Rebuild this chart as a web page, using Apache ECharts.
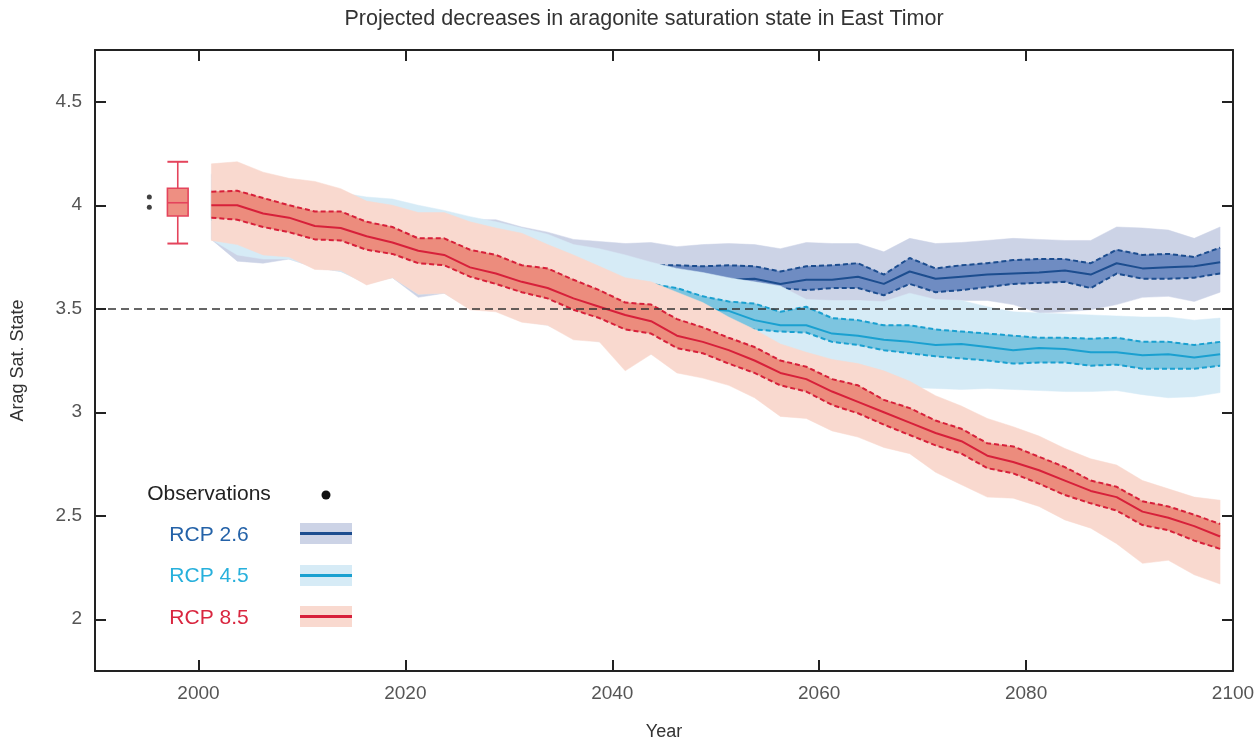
<!DOCTYPE html>
<html><head><meta charset="utf-8">
<script src="https://cdn.jsdelivr.net/npm/echarts@6/dist/echarts.min.js"></script>
<style>html,body{margin:0;padding:0;background:#fff}#c{width:1259px;height:739px}</style>
</head><body><div id="c"></div>
<script>
const years = [2001.25, 2003.75, 2006.25, 2008.75, 2011.25, 2013.75, 2016.25, 2018.75, 2021.25, 2023.75,
  2026.25, 2028.75, 2031.25, 2033.75, 2036.25, 2038.75, 2041.25, 2043.75, 2046.25, 2048.75,
  2051.25, 2053.75, 2056.25, 2058.75, 2061.25, 2063.75, 2066.25, 2068.75, 2071.25, 2073.75,
  2076.25, 2078.75, 2081.25, 2083.75, 2086.25, 2088.75, 2091.25, 2093.75, 2096.25, 2098.75];

const rcp85Median = [4.00, 4.00, 3.96, 3.94, 3.90, 3.89, 3.85, 3.82, 3.78, 3.76, 3.70, 3.67, 3.63, 3.60, 3.55, 3.51, 3.47, 3.44, 3.37, 3.34, 3.30, 3.25, 3.19, 3.16, 3.10, 3.05, 3.00, 2.95, 2.90, 2.86, 2.79, 2.76, 2.72, 2.67, 2.62, 2.59, 2.52, 2.49, 2.45, 2.40];
const rcp85InnerHigh = [4.065, 4.07, 4.035, 4.00, 3.97, 3.97, 3.92, 3.895, 3.84, 3.84, 3.785, 3.76, 3.71, 3.695, 3.64, 3.59, 3.53, 3.52, 3.45, 3.41, 3.36, 3.315, 3.25, 3.22, 3.16, 3.13, 3.06, 3.02, 2.96, 2.92, 2.85, 2.835, 2.785, 2.735, 2.67, 2.64, 2.57, 2.545, 2.505, 2.46];
const rcp85InnerLow = [3.94, 3.93, 3.895, 3.87, 3.835, 3.83, 3.785, 3.765, 3.72, 3.71, 3.655, 3.62, 3.58, 3.55, 3.495, 3.455, 3.40, 3.38, 3.31, 3.285, 3.235, 3.19, 3.13, 3.10, 3.035, 2.995, 2.94, 2.89, 2.84, 2.80, 2.73, 2.705, 2.655, 2.60, 2.56, 2.525, 2.455, 2.43, 2.38, 2.34];
const rcp85OuterHigh = [4.20, 4.21, 4.16, 4.13, 4.115, 4.08, 4.02, 4.00, 3.965, 3.965, 3.92, 3.89, 3.865, 3.81, 3.76, 3.705, 3.65, 3.63, 3.58, 3.53, 3.46, 3.40, 3.33, 3.29, 3.255, 3.235, 3.20, 3.15, 3.08, 3.03, 2.97, 2.93, 2.885, 2.825, 2.775, 2.745, 2.67, 2.63, 2.59, 2.575];
const rcp85OuterLow = [3.83, 3.81, 3.76, 3.75, 3.69, 3.685, 3.615, 3.65, 3.57, 3.575, 3.495, 3.485, 3.435, 3.42, 3.35, 3.34, 3.20, 3.28, 3.19, 3.165, 3.13, 3.07, 2.98, 2.97, 2.91, 2.88, 2.83, 2.80, 2.71, 2.65, 2.59, 2.585, 2.545, 2.48, 2.44, 2.365, 2.27, 2.285, 2.215, 2.17];

const rcp45Median = [4.00, 3.99, 3.96, 3.94, 3.90, 3.89, 3.85, 3.82, 3.78, 3.76, 3.71, 3.68, 3.65, 3.62, 3.59, 3.57, 3.55, 3.53, 3.51, 3.50, 3.49, 3.445, 3.42, 3.42, 3.38, 3.37, 3.35, 3.34, 3.325, 3.33, 3.315, 3.30, 3.31, 3.305, 3.29, 3.29, 3.275, 3.28, 3.265, 3.28];
const rcp45InnerHigh = [4.07, 4.07, 4.04, 4.01, 3.98, 3.97, 3.93, 3.90, 3.86, 3.85, 3.80, 3.78, 3.74, 3.72, 3.68, 3.66, 3.64, 3.62, 3.60, 3.56, 3.535, 3.525, 3.485, 3.51, 3.455, 3.445, 3.42, 3.42, 3.40, 3.39, 3.38, 3.37, 3.36, 3.36, 3.355, 3.36, 3.34, 3.34, 3.325, 3.34];
const rcp45InnerLow = [3.93, 3.92, 3.89, 3.87, 3.83, 3.82, 3.78, 3.76, 3.71, 3.70, 3.65, 3.62, 3.58, 3.55, 3.52, 3.49, 3.47, 3.45, 3.43, 3.42, 3.41, 3.40, 3.39, 3.385, 3.34, 3.325, 3.30, 3.285, 3.27, 3.26, 3.25, 3.235, 3.24, 3.24, 3.225, 3.23, 3.21, 3.21, 3.21, 3.225];
const rcp45OuterHigh = [4.15, 4.15, 4.12, 4.08, 4.06, 4.06, 4.04, 4.03, 4.00, 3.975, 3.945, 3.92, 3.89, 3.86, 3.81, 3.79, 3.76, 3.725, 3.695, 3.675, 3.65, 3.63, 3.61, 3.545, 3.54, 3.54, 3.535, 3.575, 3.545, 3.54, 3.51, 3.485, 3.48, 3.475, 3.47, 3.465, 3.46, 3.46, 3.445, 3.455];
const rcp45OuterLow = [3.835, 3.76, 3.74, 3.74, 3.70, 3.68, 3.62, 3.65, 3.57, 3.575, 3.50, 3.49, 3.44, 3.42, 3.36, 3.34, 3.30, 3.28, 3.25, 3.22, 3.20, 3.18, 3.16, 3.15, 3.14, 3.135, 3.13, 3.12, 3.115, 3.11, 3.115, 3.11, 3.105, 3.10, 3.10, 3.105, 3.085, 3.07, 3.075, 3.095];

const rcp26Median = [4.00, 3.99, 3.96, 3.94, 3.90, 3.89, 3.85, 3.82, 3.79, 3.77, 3.74, 3.72, 3.70, 3.69, 3.67, 3.66, 3.65, 3.65, 3.645, 3.64, 3.64, 3.645, 3.62, 3.64, 3.64, 3.655, 3.62, 3.68, 3.645, 3.655, 3.665, 3.67, 3.675, 3.685, 3.665, 3.72, 3.695, 3.70, 3.705, 3.725];
const rcp26InnerHigh = [4.06, 4.06, 4.03, 4.00, 3.97, 3.96, 3.92, 3.90, 3.87, 3.85, 3.82, 3.80, 3.78, 3.76, 3.74, 3.73, 3.72, 3.71, 3.71, 3.705, 3.71, 3.705, 3.68, 3.705, 3.71, 3.72, 3.665, 3.745, 3.695, 3.71, 3.72, 3.735, 3.74, 3.74, 3.72, 3.785, 3.76, 3.765, 3.75, 3.795];
const rcp26InnerLow = [3.94, 3.93, 3.89, 3.87, 3.84, 3.83, 3.78, 3.77, 3.72, 3.71, 3.66, 3.64, 3.62, 3.61, 3.60, 3.60, 3.60, 3.60, 3.60, 3.60, 3.60, 3.60, 3.60, 3.59, 3.60, 3.60, 3.565, 3.62, 3.58, 3.59, 3.605, 3.62, 3.625, 3.63, 3.60, 3.67, 3.645, 3.645, 3.65, 3.67];
const rcp26OuterHigh = [4.15, 4.14, 4.10, 4.07, 4.05, 4.02, 4.00, 3.99, 3.96, 3.95, 3.93, 3.93, 3.895, 3.87, 3.835, 3.825, 3.815, 3.82, 3.80, 3.81, 3.815, 3.81, 3.79, 3.82, 3.815, 3.815, 3.775, 3.84, 3.815, 3.82, 3.83, 3.84, 3.835, 3.83, 3.83, 3.895, 3.89, 3.88, 3.84, 3.895];
const rcp26OuterLow = [3.835, 3.73, 3.72, 3.74, 3.70, 3.68, 3.63, 3.65, 3.555, 3.575, 3.55, 3.55, 3.55, 3.55, 3.55, 3.55, 3.55, 3.55, 3.55, 3.55, 3.55, 3.55, 3.54, 3.535, 3.535, 3.54, 3.525, 3.555, 3.54, 3.54, 3.54, 3.52, 3.48, 3.485, 3.495, 3.52, 3.555, 3.56, 3.535, 3.58];

// observations (two points) and the red box-whisker summary
const obsYears = [1995.25, 1995.25];
const obsValues = [4.04, 3.99];
const boxYear = [1998];
const boxStats = [3.815, 3.948, 4.012, 4.082, 4.21]; // min, q1, median, q3, max

const xTicks = [2000, 2020, 2040, 2060, 2080, 2100];
const yTicks = [2, 2.5, 3, 3.5, 4, 4.5];
const threshold = 3.5;

const FONT = '"Liberation Sans", Arial, Helvetica, sans-serif';
const C = {
  r85: { outer: '#f9d9cf', inner: '#ec8c7d', line: '#d7203a' },
  r45: { outer: '#d6ebf6', inner: '#7dc5e0', line: '#1aa0d0' },
  r26: { outer: '#ccd3e6', inner: '#6f8cc2', line: '#1c4d8f' }
};

function pairs(ys) { return years.map((x, i) => [x, ys[i]]); }

function band(lo, hi, color) {
  return {
    type: 'custom', silent: true, clip: true,
    data: years.map((x, i) => [x, lo[i], hi[i]]),
    encode: { x: 0, y: [1, 2] },
    renderItem: function (params, api) {
      if (params.dataIndexInside !== 0) return null;
      const n = params.dataInsideLength;
      const up = [], dn = [];
      for (let j = 0; j < n; j++) {
        const x = api.value(0, j);
        up.push(api.coord([x, api.value(2, j)]));
        dn.push(api.coord([x, api.value(1, j)]));
      }
      return { type: 'polygon', shape: { points: up.concat(dn.reverse()) },
               style: { fill: color, stroke: color, lineWidth: 0.5 } };
    }
  };
}
function line(ys, color, dashed) {
  return { type: 'line', silent: true, data: pairs(ys), symbol: 'none',
           lineStyle: { color: color, width: 2, type: dashed ? [5, 3] : 'solid' } };
}
function scenario(c, oLo, oHi, iLo, iHi, med) {
  return [band(oLo, oHi, c.outer), band(iLo, iHi, c.inner),
          line(iHi, c.line, true), line(iLo, c.line, true), line(med, c.line, false)];
}

const series = [].concat(
  scenario(C.r26, rcp26OuterLow, rcp26OuterHigh, rcp26InnerLow, rcp26InnerHigh, rcp26Median),
  scenario(C.r45, rcp45OuterLow, rcp45OuterHigh, rcp45InnerLow, rcp45InnerHigh, rcp45Median),
  scenario(C.r85, rcp85OuterLow, rcp85OuterHigh, rcp85InnerLow, rcp85InnerHigh, rcp85Median)
);
series.forEach((s, i) => { s.z = 2 + i; });

series.push({
  type: 'custom', silent: true, z: 40,
  data: [[boxYear[0]].concat(boxStats)],
  encode: { x: 0, y: [1, 2, 3, 4, 5] },
  renderItem: function (params, api) {
    const x = api.value(0);
    const p = [1, 2, 3, 4, 5].map(d => api.coord([x, api.value(d)]));
    const w = api.size([2, 0])[0];
    const cx = p[0][0], l = cx - w / 2, r = cx + w / 2;
    const st = { stroke: '#e4445c', lineWidth: 1.6 };
    return { type: 'group', children: [
      { type: 'line', shape: { x1: cx, y1: p[0][1], x2: cx, y2: p[1][1] }, style: st },
      { type: 'line', shape: { x1: cx, y1: p[3][1], x2: cx, y2: p[4][1] }, style: st },
      { type: 'line', shape: { x1: l, y1: p[0][1], x2: r, y2: p[0][1] }, style: { stroke: '#e4445c', lineWidth: 2 } },
      { type: 'line', shape: { x1: l, y1: p[4][1], x2: r, y2: p[4][1] }, style: { stroke: '#e4445c', lineWidth: 2 } },
      { type: 'rect', shape: { x: l, y: p[3][1], width: w, height: p[1][1] - p[3][1] },
        style: { fill: '#ee8f82', stroke: '#e4445c', lineWidth: 1.6 } },
      { type: 'line', shape: { x1: l, y1: p[2][1], x2: r, y2: p[2][1] }, style: st }
    ] };
  }
});

series.push({
  type: 'scatter', silent: true, data: obsYears.map((x, i) => [x, obsValues[i]]),
  symbolSize: 5, itemStyle: { color: '#111' }, z: 50,
  markLine: { silent: true, symbol: ['none', 'none'], label: { show: false }, z: 50,
    lineStyle: { color: '#333', type: [8, 5], width: 1.6 },
    data: [{ yAxis: threshold }] }
});

const axisLineStyle = { color: '#222', width: 2 };
const tickStyle = { color: '#222', width: 2 };
const labelStyle = { color: '#555', fontSize: 19, fontFamily: FONT, formatter: v => String(v) };
const nameStyle = { color: '#333', fontSize: 18, fontFamily: FONT };

const option = {
  animation: false,
  grid: { left: 95, right: 26, top: 50, bottom: 68, containLabel: false, outerBoundsMode: 'none' },
  xAxis: [
    { type: 'value', min: 1990, max: 2100, position: 'bottom', z: 60,
      axisLine: { show: true, onZero: false, lineStyle: axisLineStyle },
      axisTick: { show: true, inside: true, length: 11, customValues: xTicks, lineStyle: tickStyle },
      axisLabel: Object.assign({ customValues: xTicks, margin: 13 }, labelStyle),
      splitLine: { show: false },
      name: 'Year', nameLocation: 'middle', nameGap: 52, nameTextStyle: nameStyle },
    { type: 'value', min: 1990, max: 2100, position: 'top', z: 60,
      axisLine: { show: true, onZero: false, lineStyle: axisLineStyle },
      axisTick: { show: true, inside: true, length: 11, customValues: xTicks, lineStyle: tickStyle },
      axisLabel: { show: false }, splitLine: { show: false } }
  ],
  yAxis: [
    { type: 'value', min: 1.75, max: 4.75, position: 'left', z: 60,
      axisLine: { show: true, onZero: false, lineStyle: axisLineStyle },
      axisTick: { show: true, inside: true, length: 11, customValues: yTicks, lineStyle: tickStyle },
      axisLabel: Object.assign({ customValues: yTicks, margin: 13 }, labelStyle),
      splitLine: { show: false },
      name: 'Arag Sat. State', nameLocation: 'middle', nameGap: 68, nameTextStyle: nameStyle },
    { type: 'value', min: 1.75, max: 4.75, position: 'right', z: 60,
      axisLine: { show: true, onZero: false, lineStyle: axisLineStyle },
      axisTick: { show: true, inside: true, length: 11, customValues: yTicks, lineStyle: tickStyle },
      axisLabel: { show: false }, splitLine: { show: false } }
  ],
  series: series,
  graphic: [
    { type: 'text', x: 644, y: 19, style: { text: 'Projected decreases in aragonite saturation state in East Timor',
      fill: '#333', fontSize: 21.5, fontFamily: FONT, align: 'center', verticalAlign: 'middle' } },
    { type: 'text', x: 209, y: 494, style: { text: 'Observations', fill: '#222', fontSize: 21, fontFamily: FONT, align: 'center', verticalAlign: 'middle' } },
    { type: 'circle', shape: { cx: 326, cy: 495, r: 4.5 }, style: { fill: '#111' } },
    { type: 'text', x: 209, y: 535, style: { text: 'RCP 2.6', fill: '#2462a8', fontSize: 21, fontFamily: FONT, align: 'center', verticalAlign: 'middle' } },
    { type: 'rect', shape: { x: 300, y: 523, width: 52, height: 21 }, style: { fill: C.r26.outer } },
    { type: 'line', shape: { x1: 300, y1: 533.5, x2: 352, y2: 533.5 }, style: { stroke: C.r26.line, lineWidth: 3 } },
    { type: 'text', x: 209, y: 576, style: { text: 'RCP 4.5', fill: '#27b0dc', fontSize: 21, fontFamily: FONT, align: 'center', verticalAlign: 'middle' } },
    { type: 'rect', shape: { x: 300, y: 565, width: 52, height: 21 }, style: { fill: C.r45.outer } },
    { type: 'line', shape: { x1: 300, y1: 575.5, x2: 352, y2: 575.5 }, style: { stroke: C.r45.line, lineWidth: 3 } },
    { type: 'text', x: 209, y: 618, style: { text: 'RCP 8.5', fill: '#d9263f', fontSize: 21, fontFamily: FONT, align: 'center', verticalAlign: 'middle' } },
    { type: 'rect', shape: { x: 300, y: 606, width: 52, height: 21 }, style: { fill: C.r85.outer } },
    { type: 'line', shape: { x1: 300, y1: 616.5, x2: 352, y2: 616.5 }, style: { stroke: C.r85.line, lineWidth: 3 } }
  ]
};

const chart = echarts.init(document.getElementById('c'), null, { renderer: 'canvas' });
chart.setOption(option);
</script>
</body></html>
